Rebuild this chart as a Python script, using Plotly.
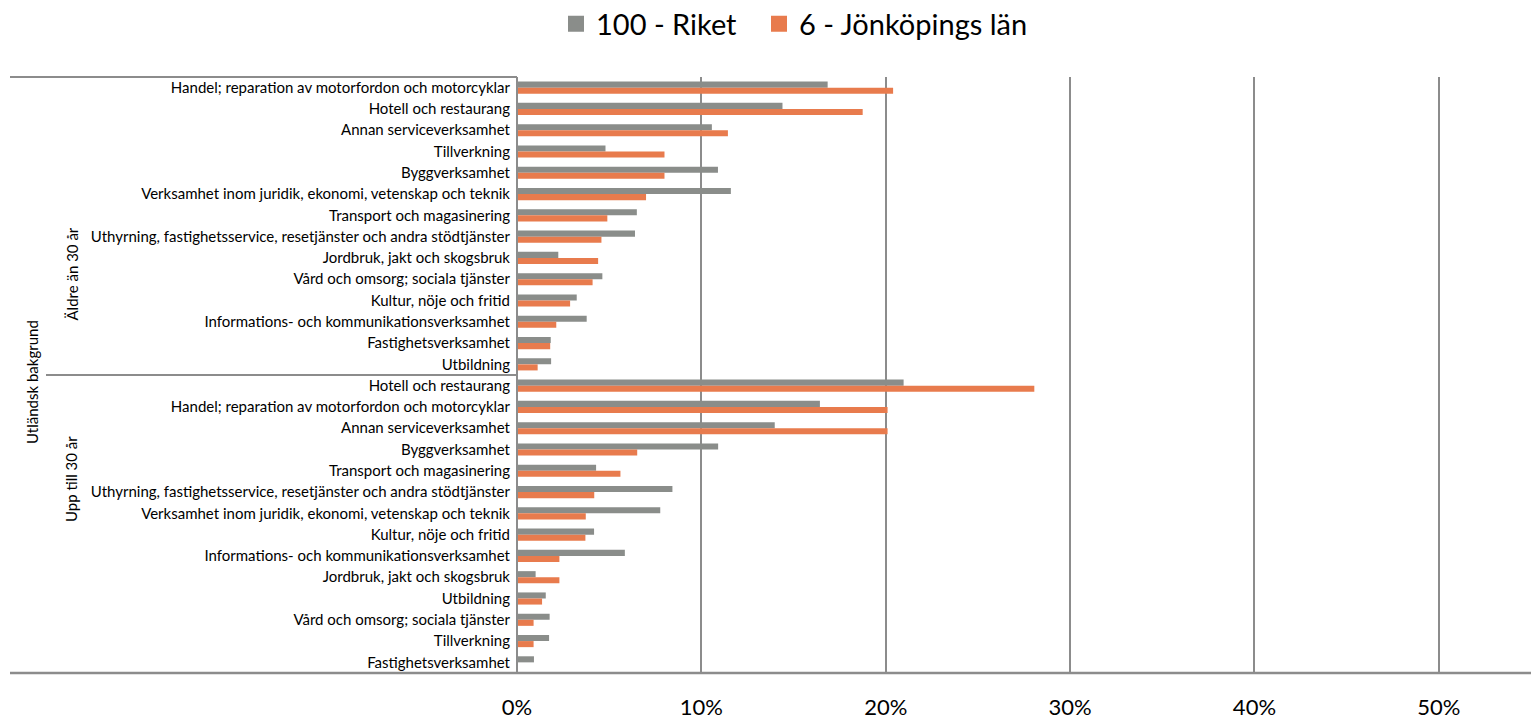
import plotly.graph_objects as go

# ---- data ----
outer_label = "Utländsk bakgrund"
age_groups = ["Äldre än 30 år", "Upp till 30 år"]

industries_aldre = [
    "Handel; reparation av motorfordon och motorcyklar",
    "Hotell och restaurang",
    "Annan serviceverksamhet",
    "Tillverkning",
    "Byggverksamhet",
    "Verksamhet inom juridik, ekonomi, vetenskap och teknik",
    "Transport och magasinering",
    "Uthyrning, fastighetsservice, resetjänster och andra stödtjänster",
    "Jordbruk, jakt och skogsbruk",
    "Vård och omsorg; sociala tjänster",
    "Kultur, nöje och fritid",
    "Informations- och kommunikationsverksamhet",
    "Fastighetsverksamhet",
    "Utbildning",
]
riket_aldre = [0.1685, 0.144, 0.1057, 0.048, 0.109, 0.116, 0.065, 0.064,
               0.0224, 0.0463, 0.0324, 0.0378, 0.0183, 0.0185]
jkpg_aldre = [0.204, 0.1875, 0.1144, 0.080, 0.080, 0.070, 0.049, 0.0458,
              0.044, 0.041, 0.0288, 0.0213, 0.018, 0.0112]

industries_upp = [
    "Hotell och restaurang",
    "Handel; reparation av motorfordon och motorcyklar",
    "Annan serviceverksamhet",
    "Byggverksamhet",
    "Transport och magasinering",
    "Uthyrning, fastighetsservice, resetjänster och andra stödtjänster",
    "Verksamhet inom juridik, ekonomi, vetenskap och teknik",
    "Kultur, nöje och fritid",
    "Informations- och kommunikationsverksamhet",
    "Jordbruk, jakt och skogsbruk",
    "Utbildning",
    "Vård och omsorg; sociala tjänster",
    "Tillverkning",
    "Fastighetsverksamhet",
]
riket_upp = [0.2097, 0.1643, 0.1398, 0.1091, 0.0429, 0.0843, 0.0777, 0.0418,
             0.0585, 0.0101, 0.0156, 0.0177, 0.0174, 0.0092]
jkpg_upp = [0.2806, 0.201, 0.201, 0.0652, 0.0561, 0.0419, 0.0373, 0.0371,
            0.023, 0.023, 0.0136, 0.009, 0.009, 0.0]

series_names = ["100 - Riket", "6 - Jönköpings län"]
x_ticks = [0, 0.1, 0.2, 0.3, 0.4, 0.5]

# ---- build ----
labels = industries_aldre + industries_upp
riket = riket_aldre + riket_upp
jkpg = jkpg_aldre + jkpg_upp
ypos = list(range(len(labels)))
n1 = len(industries_aldre)
n = len(labels)

GRAY = "#8A8D8A"
ORANGE = "#E87B4D"
LINE = "#8C8C8C"
FONT = "Lato"
colors = [GRAY, ORANGE]
legend_ids = ["legend", "legend2"]

fig = go.Figure()
for name, vals, col in zip(series_names, [riket, jkpg], colors):
    fig.add_trace(go.Bar(y=ypos, x=vals, orientation="h", name=name,
                         marker=dict(color=col, line=dict(width=0)),
                         showlegend=False, legendgroup=name))
# legend entries with larger square symbols
for name, col, lg in zip(series_names, colors, legend_ids):
    fig.add_trace(go.Scatter(x=[None], y=[None], mode="markers", name=name,
                             legendgroup=name, legend=lg,
                             marker=dict(symbol="square", size=18, color=col)))

W, H = 1531, 719
ml, mr, mt, mb = 517, 0, 77, 46
pw = W - ml - mr
ph = H - mt - mb

def px_x(px):
    return (px - ml) / pw

def px_y(py):
    return (H - mb - py) / ph

def data_to_paper_y(v):
    return 1 - (v + 0.5) / n

shapes = []
lc = dict(color=LINE, width=2)
shapes.append(dict(type="line", xref="paper", yref="paper", x0=px_x(10), x1=0,
                   y0=1, y1=1, line=lc))
ysep = data_to_paper_y(n1 - 0.5)
shapes.append(dict(type="line", xref="paper", yref="paper", x0=px_x(46), x1=0,
                   y0=ysep, y1=ysep, line=lc))
shapes.append(dict(type="line", xref="paper", yref="paper", x0=px_x(10), x1=1,
                   y0=0, y1=0, line=dict(color=LINE, width=2.5)))
shapes.append(dict(type="line", xref="paper", yref="paper", x0=0, x1=0,
                   y0=0, y1=1, line=lc))

annotations = []
mid1 = data_to_paper_y((n1 - 1) / 2)
mid2 = data_to_paper_y(n1 + (n - n1 - 1) / 2)
for txt, yy in zip(age_groups, [mid1, mid2]):
    annotations.append(dict(text=txt, xref="paper", yref="paper", x=px_x(60), y=yy,
                            showarrow=False, textangle=-90,
                            font=dict(family=FONT, size=15, color="#000")))
annotations.append(dict(text=outer_label, xref="paper", yref="paper", x=px_x(21),
                        y=px_y(382), showarrow=False, textangle=-90,
                        font=dict(family=FONT, size=15, color="#000")))

leg_common = dict(orientation="h", yref="paper", y=px_y(24), yanchor="middle",
                  xref="paper", xanchor="left",
                  font=dict(family=FONT, size=29, color="#000"),
                  bgcolor="rgba(0,0,0,0)", itemwidth=30)

fig.update_layout(
    width=W, height=H,
    margin=dict(l=ml, r=mr, t=mt, b=mb, autoexpand=False),
    paper_bgcolor="white", plot_bgcolor="white",
    barmode="group", bargap=0.43, bargroupgap=0,
    font=dict(family=FONT, color="#000"),
    showlegend=True,
    legend=dict(leg_common, x=px_x(556)),
    legend2=dict(leg_common, x=px_x(759)),
    shapes=shapes, annotations=annotations,
    xaxis=dict(range=[0, 0.55], tickvals=x_ticks, tickformat=".0%",
               showgrid=True, gridcolor=LINE, gridwidth=2, zeroline=False,
               showline=False, ticks="", ticklabelstandoff=19,
               tickfont=dict(family=FONT, size=22, color="#000"), fixedrange=True),
    yaxis=dict(range=[n - 0.5, -0.5], tickvals=ypos, ticktext=labels,
               showgrid=False, zeroline=False, showline=False, ticks="",
               ticklabelstandoff=6,
               tickfont=dict(family=FONT, size=15, color="#000")),
)

fig.write_html("out.html", config={"displayModeBar": False},
               post_script="document.body.style.margin='0';document.body.style.padding='0';")
